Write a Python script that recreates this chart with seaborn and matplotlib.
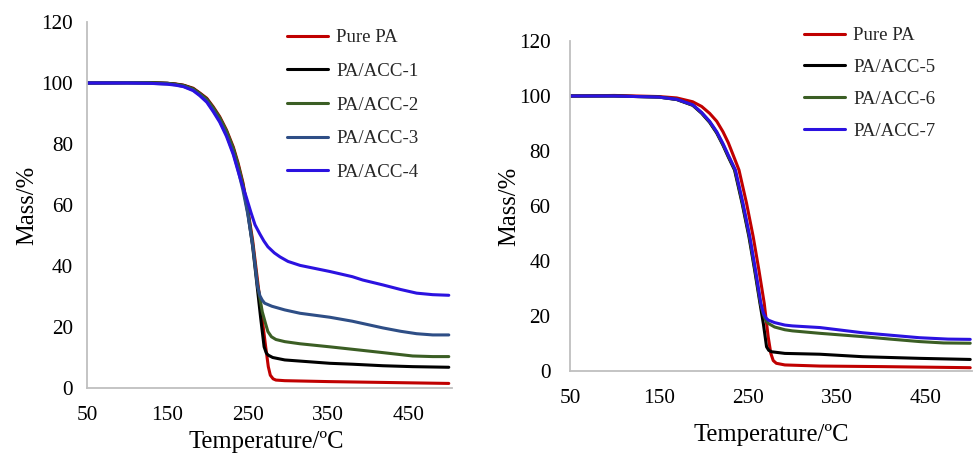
import matplotlib
matplotlib.use("Agg")
import matplotlib.pyplot as plt
import seaborn as sns
import pandas as pd

# ---------------- data: left panel ----------------
left_names = ["Pure PA", "PA/ACC-1", "PA/ACC-2", "PA/ACC-3", "PA/ACC-4"]
left_colors = ["#C00000", "#000000", "#3B5E24", "#2E4E86", "#2B12E0"]

T_L_pa = [50, 100, 128, 150, 160, 170, 182, 190, 199, 207, 215, 223.5, 232, 238, 244, 250, 256, 262, 268, 272, 275.5, 278, 281.5, 285, 296, 350, 400, 450, 500]
M_L_pa = [100, 100.1, 100.1, 99.9, 99.7, 99.3, 98.3, 96.8, 95.0, 92.2, 89.0, 84.6, 79.0, 73.7, 67.3, 58.5, 48.5, 35.5, 22.5, 14.0, 7.0, 4.2, 3.0, 2.6, 2.4, 2.1, 1.9, 1.7, 1.5]

T_L_1 = [50, 100, 128, 150, 160, 170, 182, 190, 199, 207, 215, 223.5, 232, 238, 244, 250, 256, 262, 266, 270.3, 273, 275.2, 281, 296, 306, 352, 380, 418, 455, 500]
M_L_1 = [100, 100.1, 100.1, 99.9, 99.6, 99.2, 98.1, 96.6, 94.7, 91.8, 88.5, 84.0, 78.3, 72.8, 66.3, 57.5, 46.5, 32.5, 23.0, 13.5, 11.5, 10.8, 10.0, 9.2, 9.0, 8.1, 7.8, 7.3, 7.0, 6.8]

T_L_2 = [50, 100, 128, 150, 160, 170, 182, 190, 199, 207, 215, 223.5, 232, 238, 244, 250, 256, 262, 268, 272, 275, 279.4, 285, 296, 315, 352, 380, 418, 455, 480, 500]
M_L_2 = [100, 100.1, 100.1, 99.9, 99.6, 99.2, 98.1, 96.6, 94.7, 91.9, 88.7, 84.3, 78.6, 73.2, 66.8, 58.0, 47.5, 34.0, 25.0, 21.2, 18.5, 16.8, 15.9, 15.2, 14.5, 13.5, 12.7, 11.6, 10.5, 10.3, 10.3]

T_L_3 = [50, 100, 128, 150, 160, 170, 182, 190, 199, 207, 215, 223.5, 232, 238, 244, 250, 256.5, 262, 265, 268, 271, 280, 296, 315, 352, 380, 418, 440, 460, 480, 500]
M_L_3 = [100, 100.0, 99.9, 99.7, 99.4, 98.9, 97.7, 96.1, 94.0, 91.0, 87.6, 83.0, 77.0, 71.4, 64.8, 57.0, 46.0, 33.5, 30.3, 28.8, 27.8, 26.8, 25.6, 24.5, 23.2, 21.9, 19.7, 18.6, 17.8, 17.4, 17.4]

T_L_4 = [50, 100, 128, 150, 160, 170, 182, 190, 199, 207, 215, 223.5, 232, 238, 242, 248, 254, 259, 265, 270, 275, 283, 290, 300, 315, 352, 380, 393, 418, 440, 460, 480, 500]
M_L_4 = [100, 100.0, 99.9, 99.6, 99.3, 98.8, 97.5, 95.9, 93.7, 90.6, 87.2, 82.5, 76.5, 71.0, 67.5, 62.7, 57.5, 53.5, 50.5, 48.2, 46.3, 44.3, 43.0, 41.5, 40.2, 38.2, 36.5, 35.4, 33.8, 32.3, 31.1, 30.6, 30.4]

# ---------------- data: right panel ----------------
right_names = ["Pure PA", "PA/ACC-5", "PA/ACC-6", "PA/ACC-7"]
right_colors = ["#C00000", "#000000", "#3B5E24", "#2B12E0"]

T_R_pa = [50, 100, 150, 170, 188, 198, 207, 215, 222, 228, 233.5, 240, 248.5, 256, 262.4, 268.4, 272.8, 275.8, 278.5, 282, 291.6, 331, 400, 450, 500]
M_R_pa = [100, 100.2, 99.8, 99.3, 97.9, 96.2, 93.7, 90.8, 87.0, 83.0, 78.5, 73.1, 61.0, 48.8, 36.7, 24.6, 12.5, 6.4, 3.8, 2.8, 2.2, 1.8, 1.6, 1.4, 1.2]

T_R_5 = [50, 100, 150, 170, 188, 198, 207, 215, 222, 228, 235, 243.5, 251.2, 257.6, 263.6, 267.5, 271, 273.5, 276.6, 291.6, 331, 379, 443, 500]
M_R_5 = [100, 100, 99.6, 98.7, 96.6, 93.7, 90.4, 86.5, 82.1, 77.8, 73.1, 61.0, 48.8, 36.7, 24.6, 17.0, 8.8, 7.5, 7.0, 6.4, 6.1, 5.2, 4.6, 4.2]

T_R_6 = [50, 100, 150, 170, 188, 198, 207, 215, 222, 228, 235.5, 244, 251.7, 258.1, 264.1, 267.5, 270, 273, 280, 291.6, 300, 331, 379, 410, 443, 470, 500]
M_R_6 = [100, 100, 99.6, 98.8, 96.7, 93.9, 90.6, 86.8, 82.4, 78.2, 73.1, 61.0, 48.8, 36.7, 24.6, 20.5, 18.5, 17.3, 16.0, 15.0, 14.6, 13.7, 12.5, 11.6, 10.7, 10.2, 10.1]

T_R_7 = [50, 100, 150, 170, 188, 198, 207, 215, 222, 228, 236, 244.5, 252.2, 258.6, 264.6, 267.5, 270, 273, 280, 291.6, 300, 331, 379, 443, 475, 500]
M_R_7 = [100, 100, 99.6, 98.8, 96.8, 94.0, 90.8, 87.0, 82.7, 78.5, 73.1, 61.0, 48.8, 36.7, 24.6, 21.0, 19.4, 18.5, 17.6, 16.7, 16.4, 15.8, 13.9, 12.1, 11.6, 11.5]

x_ticks = [50, 150, 250, 350, 450]
y_ticks = [0, 20, 40, 60, 80, 100, 120]

left_series = [(T_L_pa, M_L_pa), (T_L_1, M_L_1), (T_L_2, M_L_2), (T_L_3, M_L_3), (T_L_4, M_L_4)]
right_series = [(T_R_pa, M_R_pa), (T_R_5, M_R_5), (T_R_6, M_R_6), (T_R_7, M_R_7)]

# ---------------- style ----------------
sns.set_theme(style="white")
plt.rcParams["font.family"] = ["Liberation Serif", "DejaVu Serif"]
plt.rcParams["axes.unicode_minus"] = False

W, H = 973, 457
fig = plt.figure(figsize=(W / 100, H / 100), dpi=100)

def px_axes(x0, x1, y_top, y_bot):
    return fig.add_axes([x0 / W, 1 - y_bot / H, (x1 - x0) / W, (y_bot - y_top) / H])

ax1 = px_axes(87, 452, 22, 388)
ax2 = px_axes(570, 972, 41, 371)

LW = 2.2
TICK_FS = 15.3
LABEL_FS = 17.7
LEG_FS = 13.6

def draw(ax, names, colors, series, xmax, ypad):
    for name, col, (t, m) in zip(names, colors, series):
        df = pd.DataFrame({"Temperature": t, "Mass": m})
        sns.lineplot(data=df, x="Temperature", y="Mass", ax=ax, color=col,
                     linewidth=LW, label=name, sort=False, estimator=None)
    ax.set_xlim(50, xmax)
    ax.set_ylim(0, 120)
    ax.set_xticks(x_ticks)
    ax.set_yticks(y_ticks)
    ax.tick_params(axis="both", length=0, labelsize=TICK_FS, colors="#000000")
    ax.tick_params(axis="x", pad=13)
    ax.tick_params(axis="y", pad=ypad)
    for s in ["top", "right"]:
        ax.spines[s].set_visible(False)
    for s in ["left", "bottom"]:
        ax.spines[s].set_color("#BFBFBF")
        ax.spines[s].set_linewidth(1.3)
    ax.set_xlabel("Temperature/ºC", fontsize=LABEL_FS, color="#000000")
    ax.set_ylabel("Mass/%", fontsize=LABEL_FS, color="#000000")
    ax.grid(False)

draw(ax1, left_names, left_colors, left_series, 504, 10)
draw(ax2, right_names, right_colors, right_series, 502, 14)

ax1.xaxis.set_label_coords(0.49, (388 - 431.0) / 366)
ax1.yaxis.set_label_coords((38 - 87) / 365, 0.5)
ax2.xaxis.set_label_coords(0.5, (371 - 423.5) / 330)
ax2.yaxis.set_label_coords((520 - 570) / 402, 0.5)

def legend(ax, x, y, spacing):
    ax.legend(loc="upper left", bbox_to_anchor=(x / W, 1 - y / H),
              bbox_transform=fig.transFigure, frameon=False,
              fontsize=LEG_FS, handlelength=41 / 18.9, handletextpad=8 / 18.9,
              borderpad=0, borderaxespad=0, labelspacing=spacing)

legend(ax1, 287, 29, 0.87)
legend(ax2, 804, 27, 0.77)

fig.savefig("out.png", dpi=100)
